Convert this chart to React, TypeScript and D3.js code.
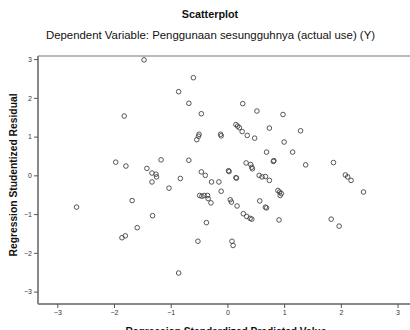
import React, { useEffect, useRef } from 'react';
import * as d3 from 'd3';

// standardized predicted value (x) and studentized residual (y)
const predicted = [
  -1.47, -0.60, -0.86, -0.68, -0.46, -1.82, -1.97, -1.79, -1.17, -1.42,
  -1.33, -1.26, -1.25, -1.33, -0.83, -1.03, -2.66, -1.68, -1.59, -1.86,
  -1.80, -1.32, -0.86, -0.52, 0.08, 0.10, -0.68, -0.50, -0.51, -0.54,
  -0.12, -0.11, -0.46, -0.39, -0.28, -0.15, -0.11, -0.49, -0.45, -0.41,
  -0.35, -0.34, -0.29, -0.37, 0.02, 0.03, 0.15, 0.16, 0.05, 0.07,
  0.17, 0.15, 0.18, 0.21, 0.26, 0.35, 0.48, 0.27, 0.52, 0.98,
  0.74, 1.29, 1.00, 0.69, 1.15, 0.82, 0.81, 1.38, 1.87, 0.33,
  0.41, 0.43, 0.44, 0.56, 0.61, 0.67, 0.74, 0.89, 0.92, 0.93,
  0.95, 0.57, 0.67, 0.69, 0.28, 0.34, 0.40, 0.43, 0.91, 2.08,
  2.12, 2.18, 2.40, 1.83, 1.97,
];
const residual = [
  2.98, 2.52, 2.16, 1.86, 1.59, 1.53, 0.34, 0.24, 0.40, 0.18,
  0.06, 0.03, -0.04, -0.17, -0.08, -0.33, -0.82, -0.65, -1.35, -1.61,
  -1.56, -1.04, -2.52, -1.70, -1.70, -1.81, 0.39, 1.06, 1.01, 0.92,
  1.06, 1.02, 0.09, 0.00, -0.17, -0.17, -0.41, -0.52, -0.54, -0.52,
  -0.52, -0.60, -0.71, -1.22, 0.12, 0.10, -0.06, -0.07, -0.63, -0.69,
  -0.79, 1.31, 1.27, 1.23, 1.13, 1.03, 0.96, 1.85, 1.66, 1.57,
  1.22, 1.15, 0.86, 0.60, 0.60, 0.38, 0.36, 0.27, 0.33, 0.32,
  0.28, 0.21, 0.17, 0.00, -0.04, -0.03, -0.13, -0.39, -0.43, -0.52,
  -0.47, -0.66, -0.82, -0.84, -0.99, -1.06, -1.11, -1.13, -1.15, 0.01,
  -0.04, -0.13, -0.43, -1.13, -1.31,
];
const tickValues = [-3, -2, -1, 0, 1, 2, 3];

const title = 'Scatterplot';
const subtitle = 'Dependent Variable: Penggunaan sesungguhnya (actual use) (Y)';
const xTitle = 'Regression Standardized Predicted Value';
const yTitle = 'Regression Studentized Residual';

const width = 410;
const height = 330;
const font = '"Liberation Sans", Arial, sans-serif';

const App = () => {
  const svgRef = useRef<SVGSVGElement>(null);

  useEffect(() => {
    const svg = d3.select(svgRef.current);
    svg.selectAll('*').remove();

    const plot = { left: 38, top: 56, right: 414, bottom: 304 };

    const x = d3.scaleLinear().domain([-3.34, 3.29]).range([plot.left, plot.right]);
    const y = d3.scaleLinear().domain([-3.32, 3.08]).range([plot.bottom, plot.top]);

    // titles
    svg.append('text')
      .attr('x', 210).attr('y', 18)
      .attr('text-anchor', 'middle')
      .attr('font-family', font).attr('font-size', 10.8).attr('font-weight', 'bold')
      .attr('fill', '#111')
      .text(title);

    svg.append('text')
      .attr('x', 210.5).attr('y', 39)
      .attr('text-anchor', 'middle')
      .attr('font-family', font).attr('font-size', 11.4)
      .attr('fill', '#111')
      .text(subtitle);

    // top frame line
    svg.append('line')
      .attr('x1', plot.left).attr('x2', width)
      .attr('y1', plot.top).attr('y2', plot.top)
      .attr('stroke', '#777').attr('stroke-width', 1);

    // axes
    const xAxis = svg.append('g')
      .attr('transform', `translate(0, ${plot.bottom})`)
      .call(d3.axisBottom(x).tickValues(tickValues).tickSize(4).tickPadding(2).tickFormat(d3.format('d')));

    const yAxis = svg.append('g')
      .attr('transform', `translate(${plot.left}, 0)`)
      .call(d3.axisLeft(y).tickValues(tickValues).tickSize(4).tickPadding(2).tickFormat(d3.format('d')));

    [xAxis, yAxis].forEach(g => {
      g.select('.domain').attr('stroke', '#888').attr('stroke-width', 2);
      g.selectAll('.tick line').attr('stroke', '#555');
      g.selectAll('.tick text')
        .attr('font-family', font).attr('font-size', 7).attr('fill', '#333');
    });
    xAxis.select('.domain').attr('d', `M${plot.left},0H${width}`);
    yAxis.select('.domain').attr('d', `M0,${plot.top}V${plot.bottom}`);

    // axis titles (the x title sits on the bottom edge, as in the original)
    svg.append('text')
      .attr('x', 226).attr('y', 334.5)
      .attr('text-anchor', 'middle')
      .attr('font-family', font).attr('font-size', 10.2).attr('font-weight', 'bold')
      .attr('fill', '#111')
      .text(xTitle);

    svg.append('text')
      .attr('transform', `translate(17, 175) rotate(-90)`)
      .attr('text-anchor', 'middle')
      .attr('font-family', font).attr('font-size', 10.3).attr('font-weight', 'bold')
      .attr('fill', '#111')
      .text(yTitle);

    // points
    svg.append('g')
      .selectAll('circle')
      .data(predicted.map((p, i) => [p, residual[i]]))
      .join('circle')
      .attr('cx', d => x(d[0]))
      .attr('cy', d => y(d[1]))
      .attr('r', 2.3)
      .attr('fill', 'none')
      .attr('stroke', '#444')
      .attr('stroke-width', 0.9);
  }, []);

  return (
    <svg ref={svgRef} width={width} height={height}
      style={{ position: 'absolute', left: 0, top: 0, background: '#fff' }} />
  );
};

export default App;
